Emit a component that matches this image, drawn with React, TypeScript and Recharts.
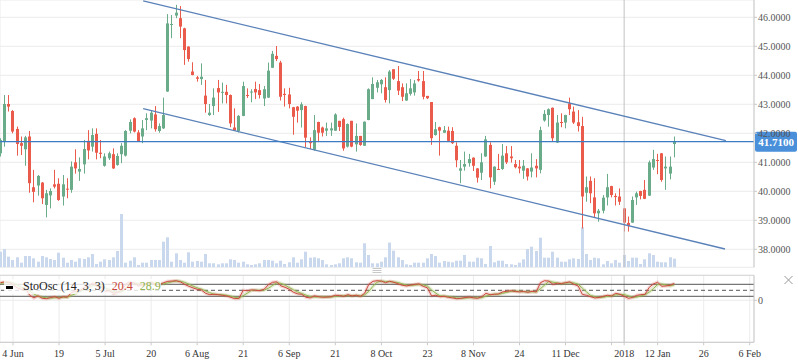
import React from 'react';
import { ComposedChart, Bar, Line, XAxis, YAxis, CartesianGrid, ReferenceLine } from 'recharts';

// ---------- data (candle index -1 .. 160) ----------
const FIRST_INDEX = -1;
const opens = [41.31,41.71,43.01,42.77,42.15,41.66,41.45,41.89,40.14,40.20,40.30,39.53,39.86,40.24,40.26,39.82,40.09,40.05,41.00,40.68,40.93,41.74,41.54,41.98,41.33,40.88,41.14,41.28,40.91,41.28,41.23,42.09,42.52,42.03,41.89,42.46,42.44,42.65,42.08,42.17,43.44,45.74,46.06,45.97,45.62,44.99,44.13,43.93,43.87,43.30,42.63,42.94,43.56,43.40,43.43,43.32,42.20,42.08,42.60,43.32,43.41,43.53,43.49,43.20,43.23,44.26,44.67,44.44,43.36,43.34,42.90,42.92,42.80,42.94,41.71,41.43,42.39,42.20,42.09,42.10,42.09,42.43,42.49,41.54,42.43,41.62,41.91,41.57,42.46,43.18,43.57,43.69,43.59,43.49,44.21,43.80,43.59,43.13,43.36,43.41,43.87,43.80,43.29,43.08,41.94,42.21,42.02,42.09,42.08,41.57,40.71,40.85,40.97,41.16,40.79,40.64,41.20,41.60,40.33,40.77,40.77,41.31,41.20,40.94,40.85,40.71,40.79,40.68,40.88,40.74,42.44,42.63,42.88,41.68,42.39,42.37,43.03,42.75,42.38,42.25,39.95,40.36,39.79,39.24,39.33,39.79,40.18,39.84,39.82,39.41,38.91,38.92,39.79,40.01,40.05,39.85,40.82,41.08,41.31,40.79,40.61,41.63];
const highs = [41.83,43.32,43.32,42.80,42.23,41.89,41.91,42.08,40.74,40.56,40.32,40.05,40.10,40.74,40.45,40.56,40.45,41.03,41.45,41.17,41.77,42.11,42.17,42.17,41.77,41.31,41.37,41.48,41.31,41.66,42.11,42.48,42.55,42.11,42.46,42.69,42.80,42.94,42.34,43.23,46.11,46.08,46.43,46.39,45.64,45.00,44.45,43.98,44.41,43.84,43.01,43.55,43.84,43.75,43.67,43.34,42.86,42.63,43.78,43.55,43.52,43.78,43.70,43.63,44.44,44.84,45.01,44.50,43.55,43.57,42.91,42.94,43.07,42.95,41.86,42.63,42.40,42.23,42.37,42.37,42.69,42.43,42.54,42.34,42.43,42.34,41.91,42.41,43.55,43.93,43.84,43.87,43.93,44.18,44.21,44.32,43.72,43.72,43.87,43.84,44.15,44.15,43.29,43.08,42.39,42.23,42.25,42.23,42.21,41.69,41.08,41.37,41.29,41.17,40.80,41.31,41.91,41.69,40.86,41.29,41.63,41.56,41.56,41.08,41.08,41.08,40.80,41.31,41.11,42.23,42.80,42.86,42.89,42.63,42.69,42.64,43.23,42.92,42.80,42.57,40.51,40.51,40.45,39.39,39.87,40.60,40.19,39.93,40.10,39.42,39.13,39.82,39.99,40.02,40.39,41.06,41.43,41.29,41.32,41.20,41.20,41.89];
const lows = [41.20,41.54,42.75,42.00,41.23,41.25,40.88,39.95,39.62,39.85,39.56,39.10,39.41,40.10,39.67,39.51,39.76,39.95,40.61,40.36,40.61,41.10,41.37,41.10,41.14,40.85,41.08,40.77,40.88,40.97,41.20,42.00,42.03,41.71,41.66,42.11,42.17,42.06,42.02,42.15,43.43,45.28,45.97,45.28,44.36,44.47,44.00,43.78,43.67,42.71,42.60,42.63,42.74,43.03,43.03,42.21,42.08,42.03,42.59,43.22,43.07,43.18,43.20,42.94,43.22,44.25,44.49,43.13,42.92,42.86,41.95,42.37,42.20,41.51,41.46,41.40,41.71,41.89,41.91,41.91,42.08,42.08,41.40,41.51,41.52,41.37,41.57,41.57,42.45,43.18,43.41,43.38,43.06,43.03,43.84,43.32,43.11,43.12,43.30,43.30,43.78,43.17,43.18,41.60,41.92,41.23,42.02,41.71,41.63,40.83,40.28,40.71,40.85,40.70,40.30,40.39,41.19,40.10,40.22,40.74,40.74,40.94,40.99,40.79,40.62,40.43,40.37,40.48,40.48,40.62,42.40,42.23,41.71,41.67,42.21,42.17,42.63,42.32,42.06,38.72,39.64,39.59,39.10,38.95,39.24,39.51,39.79,39.51,39.53,38.61,38.61,38.91,39.53,39.72,39.73,39.84,40.74,40.59,40.33,40.05,40.41,41.17];
const closes = [41.77,43.01,42.92,42.06,41.63,41.57,41.86,40.28,39.98,40.53,39.76,39.93,40.01,40.16,39.70,40.24,40.06,40.85,40.79,40.77,41.46,41.41,41.94,41.33,41.29,41.20,41.31,40.79,41.22,41.57,42.08,42.39,42.06,41.72,42.17,42.52,42.71,42.14,42.25,42.63,45.79,45.77,46.16,45.68,44.87,44.56,44.01,43.88,43.95,43.01,42.71,43.23,43.41,43.43,43.32,42.34,42.09,42.60,43.63,43.29,43.44,43.41,43.32,43.52,44.16,44.74,44.56,43.26,43.32,43.01,42.57,42.78,43.00,41.85,41.66,42.11,42.02,42.02,42.17,42.17,42.65,42.22,41.48,42.32,41.54,41.91,41.60,42.40,43.52,43.70,43.76,43.84,43.15,44.13,43.88,43.47,43.26,43.38,43.55,43.72,43.82,43.26,43.21,41.83,42.14,42.09,42.11,41.74,41.66,41.07,40.79,40.94,41.11,40.88,40.47,41.00,41.79,40.48,40.85,40.75,41.23,41.00,41.14,40.83,40.79,40.88,40.51,40.82,40.79,42.11,42.67,42.83,41.83,42.37,42.37,42.63,42.83,42.37,42.25,39.82,40.14,39.93,39.24,39.33,39.78,40.14,39.87,39.80,39.64,38.92,38.80,39.70,39.93,39.84,39.74,41.00,41.11,41.06,40.39,40.85,40.85,41.71];
// volume, thousands of lots
const volumes = [15.6,18.3,10.6,7.3,10,4.6,11.3,11.3,9,5.6,11.3,10,8.3,7.3,14.6,9.6,4.6,7.3,5.6,9,8.3,10,13.3,3.3,5.6,8,7.3,10,16.3,53.3,4.6,6.6,10,2.3,4.6,4.6,7.3,7.3,7.3,25.6,30,5.6,14,7.3,4.6,15,5.6,6.3,5.6,13.3,4,4,3,4,4,8,7.3,4.6,5.6,3,2.3,3,4,7.3,7.3,6.6,4,6.6,3.3,5,10,4.6,8,15.6,9.6,10,9,7.3,3,2.3,3,4,9,10,9,5,4.6,24,12.3,4,4,5.6,10,24.7,16.6,10,7.3,3,2.3,4.6,4.6,4.6,9,13.3,11.3,4.6,6.3,5.6,5,6.6,6.6,12.3,5.6,5.6,9.6,9,3.3,21.3,5,6.6,6.6,3.3,3,2.3,4.6,8,18.3,20.6,16.3,29.6,9.6,9.6,15.6,9.6,5.6,5.6,8,9,8.3,40,13.3,7.3,9.6,9,3,6.3,4,7.3,4.6,12.3,6.3,9.6,9.6,3.3,8,14,12.3,5.6,5,5,10,8.6];
const stochK = [88,92,90,78,62,55,58,25,12,22,10,8,14,18,10,18,16,40,45,48,65,70,85,72,68,45,48,35,40,52,82,92,85,72,78,85,90,80,78,88,95,96,98,92,80,70,62,55,52,35,28,30,28,25,22,15,8,10,50,48,52,50,48,55,78,90,92,72,65,55,40,32,30,15,12,22,18,15,16,18,25,24,20,28,22,25,20,35,80,95,98,96,88,95,90,82,75,72,76,80,82,70,62,22,25,18,20,15,12,8,10,14,16,12,10,18,35,28,30,32,42,45,48,44,42,44,40,45,42,88,98,96,80,85,84,88,92,80,72,30,25,18,12,14,20,25,22,35,30,20.4,10,14,25,28,30,65,82,90,70,72,75,85];
const stochD = [85,88,90,87,77,65,58,46,32,20,15,13,11,13,14,15,15,25,34,44,53,61,73,76,75,62,54,43,41,42,58,75,86,83,78,78,84,85,83,82,87,93,96,95,90,81,71,62,56,47,38,31,29,28,25,21,15,11,23,36,50,50,50,51,60,74,87,85,76,64,53,42,34,26,19,16,17,18,16,16,20,22,23,24,23,25,22,27,45,70,91,96,94,93,91,89,82,76,74,76,79,77,71,51,36,22,21,18,16,12,10,11,13,14,13,13,21,27,31,30,35,40,45,46,45,43,42,43,42,58,76,94,91,87,83,86,88,87,81,61,42,24,18,15,15,20,22,27,29,28.9,22,15,16,22,28,41,59,79,81,77,72,77];

const xTickIdx = [2, 13, 24, 35, 46, 57, 68, 79, 90, 101, 112, 123, 134, 145, 148, 156, 167, 178];
const xTickLabels = ['4 Jun', '19', '5 Jul', '20', '6 Aug', '21', '6 Sep', '21', '8 Oct', '23', '8 Nov', '24', '11 Dec', '', '2018', '12 Jan', '26', '6 Feb'];
const priceTicks = [38, 39, 40, 41, 42, 43, 44, 45, 46];
const stochTicks = [0];
const stochLevels = [80, 50, 20];
const lastPrice = 41.71;
const crosshairIdx = 148;
const channelUpper = [{ i: 33.1, p: 46.57 }, { i: 172.3, p: 41.75 }];
const channelLower = [{ i: 33.1, p: 42.85 }, { i: 172.1, p: 38.01 }];

const X_DOMAIN: [number, number] = [-1.106, 179.02];
const PRICE_DOMAIN: [number, number] = [37.379, 46.597];
const VOL_DOMAIN: [number, number] = [0, 267.3];
const STOCH_DOMAIN: [number, number] = [-210, 125];

const rows = opens.map((o, j) => ({
  i: j + FIRST_INDEX,
  o,
  h: highs[j],
  l: lows[j],
  c: closes[j],
  hl: [lows[j], highs[j]],
  v: volumes[j],
  k: stochK[j],
  d: stochD[j],
}));

// ---------- styles ----------
const FONT = '"Liberation Serif", "Times New Roman", serif';
const GREEN = '#6aab8a';
const RED = '#eb5b4c';
const GRID = '#ececec';
const AXIS = '#c9c9c9';

const Candle = (props: any) => {
  const { x, y, width, height, payload } = props;
  if (x == null || y == null || payload == null) return null;
  const { o, h, l, c } = payload;
  const top = Math.min(y, y + height);
  const bot = Math.max(y, y + height);
  const span = h - l;
  const pix = (v: number) => (span > 0 ? top + ((h - v) / span) * (bot - top) : top);
  const cx = Math.round(x + width / 2 - 0.5) + 0.5;
  const color = c >= o ? GREEN : RED;
  const bt = pix(Math.max(o, c));
  const bb = pix(Math.min(o, c));
  return (
    <g>
      <line x1={cx} x2={cx} y1={top} y2={bot} stroke={color} strokeWidth={1} />
      <rect x={cx - 1.5} y={bt} width={3} height={Math.max(bb - bt, 1)} fill={color} />
    </g>
  );
};

const VolBar = (props: any) => {
  const { x, y, width, height } = props;
  if (x == null || y == null) return null;
  const cx = Math.round(x + width / 2 - 0.5) + 0.5;
  return <rect x={cx - 1.5} y={Math.min(y, y + height)} width={3} height={Math.abs(height)} fill="#c9d8ec" />;
};

const PriceTag = (props: any) => {
  const vb = props.viewBox || {};
  const { x = 0, y = 0, width = 0 } = vb;
  return (
    <g>
      <rect x={x + width + 1} y={y - 10} width={42} height={20} rx={2} fill="#4a8fda" />
      <text x={x + width + 22} y={y + 4} textAnchor="middle" fill="#ffffff" fontSize={11} fontWeight={700} fontFamily={FONT}>
        {lastPrice.toFixed(4)}
      </text>
    </g>
  );
};

const xLabel = (v: number) => {
  const n = xTickIdx.indexOf(v);
  return n >= 0 ? xTickLabels[n] : '';
};

export default function App() {
  const kNow = stochK[crosshairIdx - FIRST_INDEX];
  const dNow = stochD[crosshairIdx - FIRST_INDEX];
  return (
    <div style={{ position: 'absolute', left: 0, top: 0, width: 798, height: 363, overflow: 'hidden', background: '#fff' }}>
      {/* price + volume panel */}
      <div style={{ position: 'absolute', left: 0, top: 0 }}>
        <ComposedChart width={798} height={270} data={rows} margin={{ top: 0, right: 0, bottom: 2.7, left: 0 }}>
          <XAxis xAxisId="c" type="number" dataKey="i" domain={X_DOMAIN} allowDataOverflow ticks={xTickIdx} interval={0}
            tick={false} tickLine={false} axisLine={{ stroke: '#d6d6d6' }} height={0} />
          <XAxis xAxisId="v" type="number" dataKey="i" domain={X_DOMAIN} allowDataOverflow hide />
          <YAxis yAxisId="p" orientation="right" width={44} domain={PRICE_DOMAIN} allowDataOverflow ticks={priceTicks} interval={0}
            tickFormatter={(v: number) => v.toFixed(4)} tickSize={3} tickMargin={1}
            tick={{ fontSize: 10, fill: '#555', fontFamily: FONT, textAnchor: 'start' }}
            tickLine={{ stroke: AXIS }} axisLine={{ stroke: AXIS }} />
          <YAxis yAxisId="vol" domain={VOL_DOMAIN} allowDataOverflow hide />
          <CartesianGrid xAxisId="c" yAxisId="p" stroke={GRID} strokeWidth={1} />
          <Bar xAxisId="v" yAxisId="vol" dataKey="v" barSize={4} shape={VolBar} isAnimationActive={false} />
          <Bar xAxisId="c" yAxisId="p" dataKey="hl" barSize={4} shape={Candle} isAnimationActive={false} />
          <ReferenceLine xAxisId="c" yAxisId="p" x={crosshairIdx} stroke="#c2c2c2" strokeWidth={1} />
          <ReferenceLine xAxisId="c" yAxisId="p" segment={[{ x: channelUpper[0].i, y: channelUpper[0].p }, { x: channelUpper[1].i, y: channelUpper[1].p }]}
            stroke="#5a82b9" strokeWidth={1.3} />
          <ReferenceLine xAxisId="c" yAxisId="p" segment={[{ x: channelLower[0].i, y: channelLower[0].p }, { x: channelLower[1].i, y: channelLower[1].p }]}
            stroke="#5a82b9" strokeWidth={1.3} />
          <ReferenceLine xAxisId="c" yAxisId="p" y={lastPrice} stroke="#3d7bc4" strokeWidth={1.2} label={PriceTag} />
        </ComposedChart>
      </div>

      {/* stochastic panel */}
      <div style={{ position: 'absolute', left: 0, top: 270 }}>
        <ComposedChart width={798} height={93} data={rows} margin={{ top: 5.3, right: 0, bottom: 0.7, left: 0 }}>
          <XAxis xAxisId="x" type="number" dataKey="i" domain={X_DOMAIN} allowDataOverflow ticks={xTickIdx} interval={0}
            tickFormatter={xLabel} height={20} tickSize={3} tickMargin={5}
            tick={{ fontSize: 10, fill: '#333', fontFamily: FONT }}
            tickLine={{ stroke: AXIS }} axisLine={{ stroke: AXIS }} />
          <YAxis yAxisId="s" orientation="right" width={44} domain={STOCH_DOMAIN} allowDataOverflow ticks={stochTicks} interval={0}
            tickSize={3} tickMargin={1}
            tick={{ fontSize: 10, fill: '#555', fontFamily: FONT, textAnchor: 'start' }}
            tickLine={{ stroke: AXIS }} axisLine={{ stroke: AXIS }} />
          <CartesianGrid xAxisId="x" yAxisId="s" stroke={GRID} strokeWidth={1} />
          <ReferenceLine xAxisId="x" yAxisId="s" y={STOCH_DOMAIN[1]} stroke="#d6d6d6" strokeWidth={1} />
          <ReferenceLine xAxisId="x" yAxisId="s" x={crosshairIdx} stroke="#c2c2c2" strokeWidth={1} />
          {stochLevels.map((lv, n) => (
            <ReferenceLine key={lv} xAxisId="x" yAxisId="s" y={lv} stroke="#555" strokeWidth={1}
              strokeDasharray={n === 1 ? '4 3' : undefined} />
          ))}
          <Line xAxisId="x" yAxisId="s" type="linear" dataKey="d" stroke="#9bbb59" strokeOpacity={0.25} strokeWidth={3.5} dot={false} activeDot={false} isAnimationActive={false} />
          <Line xAxisId="x" yAxisId="s" type="linear" dataKey="k" stroke="#d0524a" strokeOpacity={0.2} strokeWidth={3.5} dot={false} activeDot={false} isAnimationActive={false} />
          <Line xAxisId="x" yAxisId="s" type="linear" dataKey="d" stroke="#94b652" strokeWidth={1} dot={false} activeDot={false} isAnimationActive={false} />
          <Line xAxisId="x" yAxisId="s" type="linear" dataKey="k" stroke="#cc4a3e" strokeWidth={1} dot={false} activeDot={false} isAnimationActive={false} />
        </ComposedChart>
      </div>

      {/* indicator legend */}
      <div style={{ position: 'absolute', left: 4, top: 279, width: 157, height: 15, background: 'rgba(255,255,255,0.8)' }}>
        <span style={{ position: 'absolute', left: 2, top: 7, width: 7, height: 2.5, background: '#000' }} />
        <span style={{ position: 'absolute', left: 19, top: -0.5, lineHeight: '14px', fontSize: 12, fontFamily: FONT, color: '#222', whiteSpace: 'nowrap' }}>
          StoOsc (14, 3, 3)
          <span style={{ color: '#c9463b', marginLeft: 7 }}>{kNow.toFixed(1)}</span>
          <span style={{ color: '#8fb04e', marginLeft: 7 }}>{dNow.toFixed(1)}</span>
        </span>
      </div>

      {/* pane drag handle */}
      <svg style={{ position: 'absolute', left: 372, top: 267 }} width={10} height={7}>
        <line x1={0.5} x2={9.5} y1={1.5} y2={1.5} stroke="#c8c8c8" />
        <line x1={0.5} x2={9.5} y1={3.5} y2={3.5} stroke="#c8c8c8" />
        <line x1={0.5} x2={9.5} y1={5.5} y2={5.5} stroke="#c8c8c8" />
      </svg>
      {/* pane close icon */}
      <svg style={{ position: 'absolute', left: 783, top: 275 }} width={11} height={10}>
        <line x1={1.5} x2={9.5} y1={1} y2={9} stroke="#999" />
        <line x1={9.5} x2={1.5} y1={1} y2={9} stroke="#999" />
      </svg>
    </div>
  );
}
